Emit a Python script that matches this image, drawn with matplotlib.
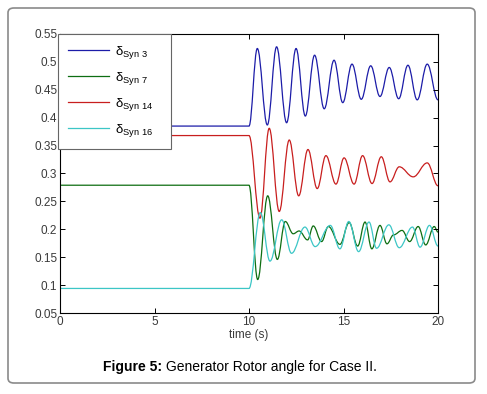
import matplotlib
matplotlib.use("Agg")
import matplotlib.pyplot as plt
from matplotlib.lines import Line2D
from matplotlib.patches import FancyBboxPatch, PathPatch
from matplotlib.path import Path

# extrema (time in s, rotor angle)
t_syn3 = [0, 10.0, 10.44, 10.97, 11.46, 11.99, 12.49, 12.98, 13.47, 13.98, 14.5,
          14.96, 15.45, 15.94, 16.44, 16.93, 17.42, 17.92, 18.41, 18.9, 19.43, 20.0]
d_syn3 = [0.385, 0.385, 0.524, 0.387, 0.527, 0.391, 0.524, 0.403, 0.512, 0.416, 0.503,
          0.427, 0.496, 0.433, 0.493, 0.438, 0.490, 0.434, 0.494, 0.432, 0.496, 0.432]

t_syn7 = [0, 10.0, 10.46, 10.99, 11.5, 11.92, 12.34, 12.65, 13.1, 13.4, 13.84, 14.2,
          14.81, 15.3, 15.75, 16.14, 16.5, 16.93, 17.3, 17.65, 18.1, 18.5, 18.95,
          19.35, 19.8, 20.0]
d_syn7 = [0.279, 0.279, 0.110, 0.260, 0.146, 0.214, 0.192, 0.197, 0.181, 0.206, 0.178, 0.205,
          0.173, 0.212, 0.170, 0.213, 0.165, 0.207, 0.174, 0.190, 0.198, 0.178, 0.205,
          0.172, 0.205, 0.195]

t_syn14 = [0, 10.0, 10.58, 11.07, 11.6, 12.13, 12.63, 13.12, 13.61, 14.07, 14.6,
           15.03, 15.56, 16.01, 16.51, 17.0, 17.46, 17.95, 18.69, 19.43, 20.0]
d_syn14 = [0.368, 0.368, 0.220, 0.381, 0.232, 0.360, 0.260, 0.343, 0.273, 0.332, 0.281,
           0.328, 0.281, 0.332, 0.282, 0.330, 0.285, 0.312, 0.294, 0.319, 0.278]

t_syn16 = [0, 10.0, 10.6, 11.11, 11.73, 12.25, 12.96, 13.5, 14.3, 14.81, 15.28, 15.8,
           16.35, 16.75, 17.4, 17.95, 18.65, 19.05, 19.55, 20.0]
d_syn16 = [0.094, 0.094, 0.230, 0.143, 0.217, 0.157, 0.204, 0.169, 0.207, 0.165, 0.214, 0.160,
           0.213, 0.166, 0.208, 0.167, 0.204, 0.168, 0.207, 0.170]

x_ticks = [0, 5, 10, 15, 20]
y_ticks = [0.05, 0.1, 0.15, 0.2, 0.25, 0.3, 0.35, 0.4, 0.45, 0.5, 0.55]
y_labels = ["0.05", "0.1", "0.15", "0.2", "0.25", "0.3", "0.35", "0.4", "0.45", "0.5", "0.55"]

series = [
    (t_syn3, d_syn3, "#1c1ca8", "3"),
    (t_syn7, d_syn7, "#0e6e12", "7"),
    (t_syn14, d_syn14, "#c81e1e", "14"),
    (t_syn16, d_syn16, "#3cc6c6", "16"),
]

plt.rcParams["font.family"] = ["Liberation Sans", "DejaVu Sans"]
plt.rcParams["mathtext.fontset"] = "custom"
plt.rcParams["mathtext.rm"] = "Liberation Sans"
plt.rcParams["mathtext.it"] = "Liberation Sans:italic"


def smooth_path(t, d):
    # cubic segments with flat tangents at each turning point
    verts = [(t[0], d[0])]
    codes = [Path.MOVETO]
    for i in range(1, len(t)):
        dt = t[i] - t[i - 1]
        verts += [(t[i - 1] + 0.38 * dt, d[i - 1]), (t[i] - 0.38 * dt, d[i]), (t[i], d[i])]
        codes += [Path.CURVE4] * 3
    return Path(verts, codes)


W, H = 487, 394
fig = plt.figure(figsize=(W / 100, H / 100), dpi=100)
ax = fig.add_axes([60 / W, 1 - 313 / H, 378 / W, 279 / H])

handles, labels = [], []
for t, d, color, name in series:
    ax.add_patch(PathPatch(smooth_path(t, d), facecolor="none", edgecolor=color, linewidth=0.9))
    handles.append(Line2D([], [], color=color, linewidth=0.9))
    labels.append("δ$_{\\mathrm{Syn\\ " + name + "}}$" + "   ")

ax.set_xlim(0, 20)
ax.set_ylim(0.05, 0.55)
ax.set_xticks(x_ticks)
ax.set_yticks(y_ticks)
ax.set_yticklabels(y_labels)
ax.tick_params(direction="in", length=3.5, width=0.7, top=True, right=True,
               labelsize=8.5, labelcolor="#3a3a3a", pad=2)
for sp in ax.spines.values():
    sp.set_linewidth(0.8)
ax.set_xlabel("time (s)", fontsize=8.5, color="#3a3a3a", labelpad=1)

leg = ax.legend(handles, labels, loc="upper left", bbox_to_anchor=(-0.005, 1), borderaxespad=0,
                fontsize=9.5, handlelength=3.1, handletextpad=0.45, labelspacing=0.68,
                borderpad=0.75, fancybox=False, framealpha=1, edgecolor="#666666")
leg.get_frame().set_linewidth(0.8)

# outer rounded frame
frame = FancyBboxPatch((8 / W, 1 - 383 / H), 467 / W, 375 / H,
                       boxstyle="round,pad=0,rounding_size=0.012",
                       transform=fig.transFigure, facecolor="none",
                       edgecolor="#8a8a8a", linewidth=1.2)
fig.patches.append(frame)

# caption with bold lead-in
fig.canvas.draw()
renderer = fig.canvas.get_renderer()
bold = fig.text(0, 0, "Figure 5:", fontsize=10, fontweight="bold")
rest = fig.text(0, 0, " Generator Rotor angle for Case II.", fontsize=10)
wb = bold.get_window_extent(renderer).width
wr = rest.get_window_extent(renderer).width
x0 = (240 - (wb + wr) / 2) / W
yc = 1 - 371 / H
bold.set_position((x0, yc))
rest.set_position((x0 + wb / W, yc))

fig.savefig("out.png", dpi=100)
